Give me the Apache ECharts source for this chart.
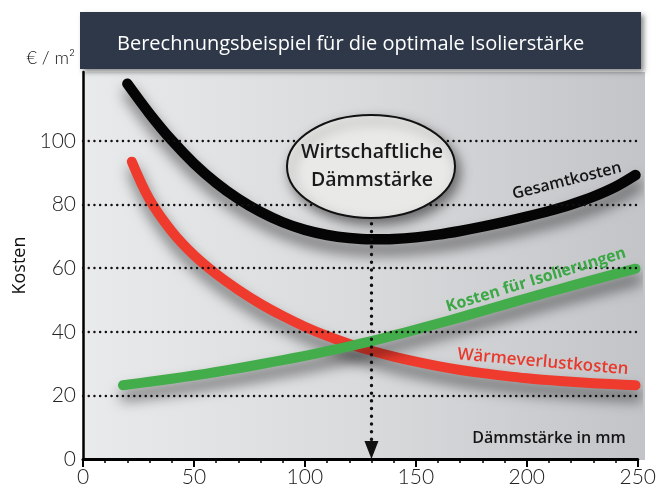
<!DOCTYPE html>
<html>
<head>
<meta charset="utf-8">
<script src="https://cdn.jsdelivr.net/npm/echarts@6/dist/echarts.min.js"></script>
<style>
html,body{margin:0;padding:0;background:#fff;}
#c{width:659px;height:492px;}
</style>
</head>
<body>
<div id="c"></div>
<script>
// ---- data ----
const titleText = 'Berechnungsbeispiel für die optimale Isolierstärke';
const unitText = '€ / m²';
const yName = 'Kosten';
const xName = 'Dämmstärke in mm';
const optimumLabel = ['Wirtschaftliche', 'Dämmstärke'];
const optimumX = 130;
const gridTicks = [20, 40, 60, 80, 100];

const gesamtName = 'Gesamtkosten';
const gesamtX = [20, 30, 40, 50, 60, 70, 80, 90, 100, 110, 120, 130, 140, 150, 160, 170, 180, 190, 200, 210, 220, 230, 240, 249];
const gesamtY = [118, 108.6, 100.2, 92.95, 86.85, 81.8, 77.7, 74.45, 72.05, 70.45, 69.5, 69.1, 69.2, 69.7, 70.55, 71.7, 73.05, 74.55, 76.2, 78.0, 80.05, 82.5, 85.6, 89.3];

const waermeName = 'Wärmeverlustkosten';
const waermeX = [22, 30, 40, 50, 60, 70, 80, 90, 100, 110, 120, 130, 140, 150, 160, 170, 180, 190, 200, 210, 220, 230, 240, 249];
const waermeY = [93.5, 81.6, 71.6, 64.1, 58.2, 53.2, 48.8, 45.0, 41.6, 38.7, 36.2, 34.05, 32.2, 30.6, 29.2, 28.0, 27.0, 26.15, 25.4, 24.8, 24.3, 23.85, 23.5, 23.2];

const isoName = 'Kosten für Isolierungen';
const isoX = [18, 30, 40, 50, 60, 70, 80, 90, 100, 110, 120, 130, 140, 150, 160, 170, 180, 190, 200, 210, 220, 230, 240, 249];
const isoY = [23.2, 24.3, 25.25, 26.25, 27.35, 28.55, 29.8, 31.1, 32.45, 33.9, 35.45, 37.1, 38.85, 40.7, 42.6, 44.55, 46.55, 48.55, 50.55, 52.5, 54.45, 56.35, 58.2, 59.85];

const zip = (xs, ys) => xs.map((x, i) => [x, ys[i]]);

const chart = echarts.init(document.getElementById('c'), null, {renderer: 'canvas'});
const FONT = '"Open Sans", "Noto Sans", sans-serif';
const NUMFONT = 'Lato, "Open Sans", sans-serif';

function curve(name, xs, ys, color, width) {
  return {
    name: name, type: 'line', smooth: 0.35, showSymbol: false, z: 3,
    data: zip(xs, ys),
    lineStyle: {
      color: color, width: width, cap: 'round', join: 'round',
      shadowColor: 'rgba(0,0,0,0.55)', shadowBlur: 14, shadowOffsetX: 2, shadowOffsetY: 10
    },
    silent: true
  };
}

chart.setOption({
  animation: false,
  backgroundColor: '#ffffff',
  title: {
    text: titleText, left: 112, top: 29, z: 20,
    textStyle: {color: '#ffffff', fontSize: 20, fontWeight: 'normal', fontFamily: FONT}
  },
  grid: {left: 83, right: 19, top: 72, bottom: 33},
  xAxis: {
    type: 'value', min: 0, max: 250, interval: 50,
    axisLine: {show: true, lineStyle: {color: '#000', width: 3}},
    axisTick: {show: true, length: 8, lineStyle: {color: '#000', width: 2}},
    minorTick: {show: true, splitNumber: 5, length: 4, lineStyle: {color: '#000', width: 1.5}},
    splitLine: {show: false},
    axisLabel: {fontSize: 21, color: '#222', margin: 8, fontFamily: NUMFONT, fontWeight: 300}
  },
  yAxis: {
    type: 'value', min: 0, max: 121.7, interval: 20,
    name: yName, nameLocation: 'middle', nameRotate: 90, nameGap: 54,
    nameTextStyle: {fontSize: 18, color: '#111', fontFamily: FONT},
    axisLine: {show: true, lineStyle: {color: '#000', width: 2.5}},
    axisTick: {show: false},
    splitLine: {show: false},
    axisLabel: {fontSize: 21, color: '#222', margin: 7, fontFamily: NUMFONT, fontWeight: 300,
      formatter: v => (v > 100 ? '' : String(v))}
  },
  series: [
    {
      type: 'line', z: 1, data: zip(isoX, isoY), showSymbol: false, silent: true,
      lineStyle: {opacity: 0},
      markLine: {
        silent: true, symbol: 'none', animation: false,
        label: {show: false},
        lineStyle: {color: '#111', width: 2.4, type: [0.1, 5.6], cap: 'round'},
        data: gridTicks.map(t => ({yAxis: t}))
      }
    },
    {
      type: 'line', z: 1, data: zip(isoX, isoY), showSymbol: false, silent: true,
      lineStyle: {opacity: 0},
      markLine: {
        silent: true, animation: false,
        symbol: ['none', 'triangle'], symbolSize: [14, 18],
        label: {show: false},
        lineStyle: {color: '#111', width: 3.4, type: [0.1, 7.6], cap: 'round', opacity: 1},
        data: [[{coord: [optimumX, 74]}, {coord: [optimumX, 2.8]}]]
      }
    },
    curve(gesamtName, gesamtX, gesamtY, '#050505', 10.5),
    curve(waermeName, waermeX, waermeY, '#ee3b2d', 10),
    curve(isoName, isoX, isoY, '#43ad4b', 10)
  ],
  graphic: [
    {
      type: 'rect', z: -5, silent: true,
      shape: {x: 83, y: 72, width: 562, height: 388},
      style: {
        fill: new echarts.graphic.LinearGradient(0, 0, 1, 0, [
          {offset: 0, color: '#e9eaeb'},
          {offset: 0.5, color: '#d9dadc'},
          {offset: 1, color: '#c2c4c7'}
        ])
      }
    },
    {
      type: 'rect', z: 15, silent: true,
      shape: {x: 80, y: 12, width: 561, height: 57},
      style: {
        fill: '#2f3849',
        shadowColor: 'rgba(0,0,0,0.45)', shadowBlur: 5, shadowOffsetX: 3, shadowOffsetY: 3
      }
    },
    {
      type: 'text', z: 15, silent: true, x: 75, y: 58,
      style: {text: unitText, fill: '#111', font: '300 18px ' + NUMFONT, align: 'right', verticalAlign: 'middle'}
    },
    {
      type: 'ellipse', z: 12, silent: true,
      shape: {cx: 371, cy: 166.5, rx: 84, ry: 51.5},
      style: {
        fill: '#e9e9e8', stroke: '#111', lineWidth: 2,
        shadowColor: 'rgba(0,0,0,0.5)', shadowBlur: 12, shadowOffsetX: 4, shadowOffsetY: 6
      }
    },
    {
      type: 'text', z: 13, silent: true, x: 372, y: 152,
      style: {text: optimumLabel[0], fill: '#1a1a1a', font: '600 19.5px ' + FONT, align: 'center', verticalAlign: 'middle'}
    },
    {
      type: 'text', z: 13, silent: true, x: 372, y: 180,
      style: {text: optimumLabel[1], fill: '#1a1a1a', font: '600 19.5px ' + FONT, align: 'center', verticalAlign: 'middle'}
    },
    {
      type: 'text', z: 13, silent: true, x: 567, y: 181, rotation: 14 * Math.PI / 180,
      style: {text: gesamtName, fill: '#151515', font: '600 16px ' + FONT, align: 'center', verticalAlign: 'middle'}
    },
    {
      type: 'text', z: 13, silent: true, x: 536, y: 280, rotation: 17 * Math.PI / 180,
      style: {text: isoName, fill: '#3aa844', font: 'bold 16px ' + FONT, align: 'center', verticalAlign: 'middle'}
    },
    {
      type: 'text', z: 13, silent: true, x: 543, y: 362, rotation: -5 * Math.PI / 180,
      style: {text: waermeName, fill: '#e8392c', font: '600 17px ' + FONT, align: 'center', verticalAlign: 'middle'}
    },
    {
      type: 'text', z: 13, silent: true, x: 549, y: 438,
      style: {text: xName, fill: '#151515', font: '600 16px ' + FONT, align: 'center', verticalAlign: 'middle'}
    }
  ]
});
</script>
</body>
</html>
